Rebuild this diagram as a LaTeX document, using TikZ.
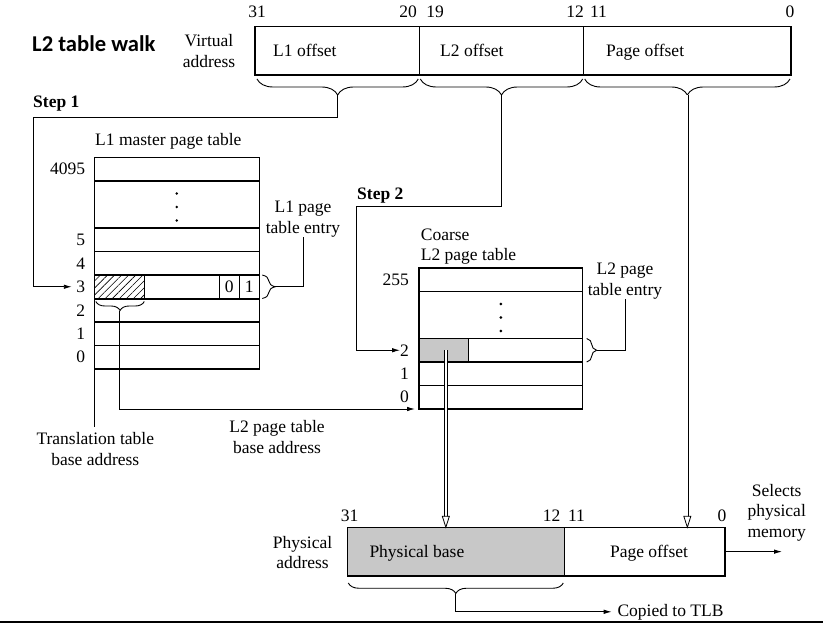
\documentclass[tikz,border=0pt]{standalone}
\usepackage{fontspec}
\setmainfont{Liberation Serif}
\newfontfamily\titlefont{Carlito}
\usetikzlibrary{arrows.meta,decorations.pathreplacing,patterns.meta,calc}
\definecolor{cellgray}{RGB}{200,200,200}
\tikzset{
  txt/.style={inner sep=0pt, font=\fontsize{17.5}{20.5}\selectfont},
  ml/.style={txt, align=center},
  bold/.style={inner sep=0pt, font=\fontsize{17.5}{20.5}\selectfont\bfseries},
  cell/.style={draw, line width=1.2pt, inner sep=0pt, outer sep=0pt, anchor=north west, font=\fontsize{17.5}{20.5}\selectfont},
  l1row/.style={cell, minimum width=165, minimum height=23.5},
  l2row/.style={cell, minimum width=163.7, minimum height=23.5},
  conn/.style={line width=0.9pt},
  arr/.style={conn, -{Latex[length=8pt,width=4.5pt]}},
  brc/.style={decorate, line width=0.9pt, decoration={brace, amplitude=#1}},
  brcd/.style={brc=#1, decoration={mirror}},
  dbl/.style={line width=0.8pt, double, double distance=2pt},
  hollow/.style={line width=0.8pt, fill=white},
}
\begin{document}
\begin{tikzpicture}[x=1pt,y=-1pt]
\useasboundingbox (0,0) rectangle (823,623);

% title
\node[anchor=base west, inner sep=0pt, font=\titlefont\bfseries\fontsize{22.6}{26}\selectfont] (title) at (32,52) {L2 table walk};

% virtual address
\node[cell, minimum width=164.3, minimum height=48.3] (vaL1) at (255,26.7) {};
\node[cell, minimum width=164.4, minimum height=48.3] (vaL2) at (vaL1.north east) {};
\node[cell, minimum width=207.3, minimum height=48.3] (vaPO) at (vaL2.north east) {};
\node[txt, anchor=base west] (tL1) at (273,57) {L1 offset};
\node[txt, anchor=base west] (tL2) at (440,57) {L2 offset};
\node[txt, anchor=base west] (tPO) at (606,57) {Page offset};
\node[ml] (tva) at (209,51) {Virtual\\address};
\node[txt, anchor=base] (b31) at (257,18) {31};
\node[txt, anchor=base] (b20) at (408,18) {20};
\node[txt, anchor=base] (b19) at (435,18) {19};
\node[txt, anchor=base] (b12) at (575,18) {12};
\node[txt, anchor=base] (b11) at (598.5,18) {11};
\node[txt, anchor=base] (b0) at (790,18) {0};

\draw[brcd=16] ($(vaL1.south west)+(2,4)$) -- ($(vaL1.south east)+(-1,4)$);
\draw[brcd=16] ($(vaL2.south west)+(1,4)$) -- ($(vaL2.south east)+(-1,4)$);
\draw[brcd=16] ($(vaPO.south west)+(1,4)$) -- ($(vaPO.south east)+(-1,4)$);
\coordinate (vt1) at ($(vaL1.south)+(0,20)$);
\coordinate (vt2) at ($(vaL2.south)+(0,20)$);
\coordinate (vt3) at ($(vaPO.south)+(0,20)$);

% step 1
\node[bold, anchor=base west] (step1) at (33,108) {Step 1};
\node[txt, anchor=base west] (l1title) at (95,146) {L1 master page table};

% L1 table
\node[l1row] (l1r4095) at (94.3,157.5) {};
\node[l1row, minimum height=47] (l1dots) at (l1r4095.south west) {};
\node[l1row] (l1r5) at (l1dots.south west) {};
\node[l1row] (l1r4) at (l1r5.south west) {};
\node[l1row] (l1r3) at (l1r4.south west) {};
\node[l1row] (l1r2) at (l1r3.south west) {};
\node[l1row] (l1r1) at (l1r2.south west) {};
\node[l1row] (l1r0) at (l1r1.south west) {};
\node[cell, minimum width=50, minimum height=23.5, pattern={Lines[angle=45,distance=5pt,line width=0.6pt]}] (hatch) at (l1r3.north west) {};
\node[cell, anchor=north east, minimum width=20, minimum height=23.5] (c1) at (l1r3.north east) {1};
\node[cell, anchor=north east, minimum width=20, minimum height=23.5] (c0) at (c1.north west) {0};
\draw[line width=2pt] (l1r3.south west) -- (l1r3.south east);
\foreach \dy in {-11,2.5,16} \fill ($(l1dots.center)+(0,\dy)$) circle (1.4);

\node[txt, anchor=east] (n4095) at ($(l1r4095.west)+(-9,0)$) {4095};
\node[txt, anchor=east] (n5) at ($(l1r5.west)+(-9,0)$) {5};
\node[txt, anchor=east] (n4) at ($(l1r4.west)+(-9,0)$) {4};
\node[txt, anchor=east] (n3) at ($(l1r3.west)+(-9,0)$) {3};
\node[txt, anchor=east] (n2) at ($(l1r2.west)+(-9,0)$) {2};
\node[txt, anchor=east] (n1) at ($(l1r1.west)+(-9,0)$) {1};
\node[txt, anchor=east] (n0) at ($(l1r0.west)+(-9,0)$) {0};

\coordinate (s1c) at (33,117);
\draw[arr] (vt1) |- (s1c) |- ($(l1r3.west)+(-22.5,0)$);

% L1 entry brace
\draw[brc=13] ($(l1r3.north east)+(3,0)$) -- ($(l1r3.south east)+(3,0)$);
\coordinate (l1bt) at ($(l1r3.east)+(16,0)$);
\node[ml] (l1pte) at (303,219) {L1 page\\table entry};
\draw[conn] (l1bt) -| (l1pte.south);

% hatched brace
\draw[brcd=9] ($(hatch.south west)+(1.5,3)$) -- ($(hatch.south east)+(0,3)$);
\coordinate (hbt) at ($(hatch.south)+(0,12)$);

\node[ml] (ttba) at (95.3,449) {Translation table\\base address};
\draw[conn] (l1r0.south west) -- ($(l1r0.south west |- ttba.north)+(0,-5)$);
\node[ml] (l2pba) at (277,437) {L2 page table\\base address};

% step 2
\node[bold, anchor=base west] (step2) at (357,200) {Step 2};
\node[txt, align=left, anchor=west] (coarse) at (420.7,246.5) {Coarse\\L2 page table};

% L2 table
\node[l2row] (l2r255) at (419,268) {};
\node[l2row, minimum height=47] (l2dots) at (l2r255.south west) {};
\node[l2row] (l2r2) at (l2dots.south west) {};
\node[l2row] (l2r1) at (l2r2.south west) {};
\node[l2row] (l2r0) at (l2r1.south west) {};
\node[cell, fill=cellgray, minimum width=49.7, minimum height=23.5] (gcell) at (l2r2.north west) {};
\foreach \dy in {-11,2.5,16} \fill ($(l2dots.center)+(0,\dy)$) circle (1.4);
\node[txt, anchor=east] (m255) at ($(l2r255.west)+(-10,0)$) {255};
\node[txt, anchor=east] (m2) at ($(l2r2.west)+(-10,0)$) {2};
\node[txt, anchor=east] (m1) at ($(l2r1.west)+(-10,0)$) {1};
\node[txt, anchor=east] (m0) at ($(l2r0.west)+(-10,0)$) {0};

\coordinate (s2c) at (356,206.7);
\draw[arr] (vt2) |- (s2c) |- ($(l2r2.west)+(-19,0)$);
\coordinate (l2tip) at ($(l2r0.south west)+(-4,0)$);
\draw[arr] (hbt) |- (l2tip);

\draw[brc=10] ($(l2r2.north east)+(4,0)$) -- ($(l2r2.south east)+(4,0)$);
\coordinate (l2bt) at ($(l2r2.east)+(14,0)$);
\node[ml] (l2pte) at (625,281) {L2 page\\table entry};
\draw[conn] (l2bt) -| (l2pte.south);

% physical address
\node[cell, fill=cellgray, minimum width=217, minimum height=48.7] (pbase) at (347.3,527.3) {};
\node[cell, minimum width=160.7, minimum height=48.7] (ppo) at (pbase.north east) {};
\node[txt, anchor=base west] (tpb) at (369.3,557.7) {Physical base};
\node[txt, anchor=base] (tppo) at (649,557.7) {Page offset};
\node[ml] (tpa) at (302.5,552.7) {Physical\\address};
\node[txt, anchor=base] (p31) at (349.5,521) {31};
\node[txt, anchor=base] (p12) at (551.5,521) {12};
\node[txt, anchor=base] (p11) at (576.5,521) {11};
\node[txt, anchor=base] (p0) at (722,521) {0};

% double arrows
\coordinate (ga) at ($(gcell.center)+(2,0)$);
\coordinate (gaEnd) at (ga |- pbase.north);
\draw[dbl] (ga) -- ($(gaEnd)+(0,-9)$);
\draw[hollow] (gaEnd) -- ++(-3.5,-11) -- ++(7,0) -- cycle;
\coordinate (poEnd) at (vt3 |- ppo.north);
\draw[dbl] (vt3) -- ($(poEnd)+(0,-9)$);
\draw[hollow] (poEnd) -- ++(-3.5,-11) -- ++(7,0) -- cycle;

% output
\coordinate (selEnd) at ($(ppo.east)+(57,0)$);
\draw[arr] (ppo.east) -- (selEnd);
\node[ml] (sel) at (776.7,512.5) {Selects\\physical\\memory};

\draw[brcd=10.5] ($(pbase.south west)+(1,7)$) -- ($(pbase.south east)+(-1,7)$);
\coordinate (pbt) at ($(pbase.south)+(0,17.5)$);
\node[txt, anchor=base west] (tlb) at (617.3,616) {Copied to TLB};
\draw[arr] (pbt) |- ($(tlb.west)+(-5.6,0)$);

\draw[line width=2pt] (0,622) -- (823,622);
\end{tikzpicture}
\end{document}
